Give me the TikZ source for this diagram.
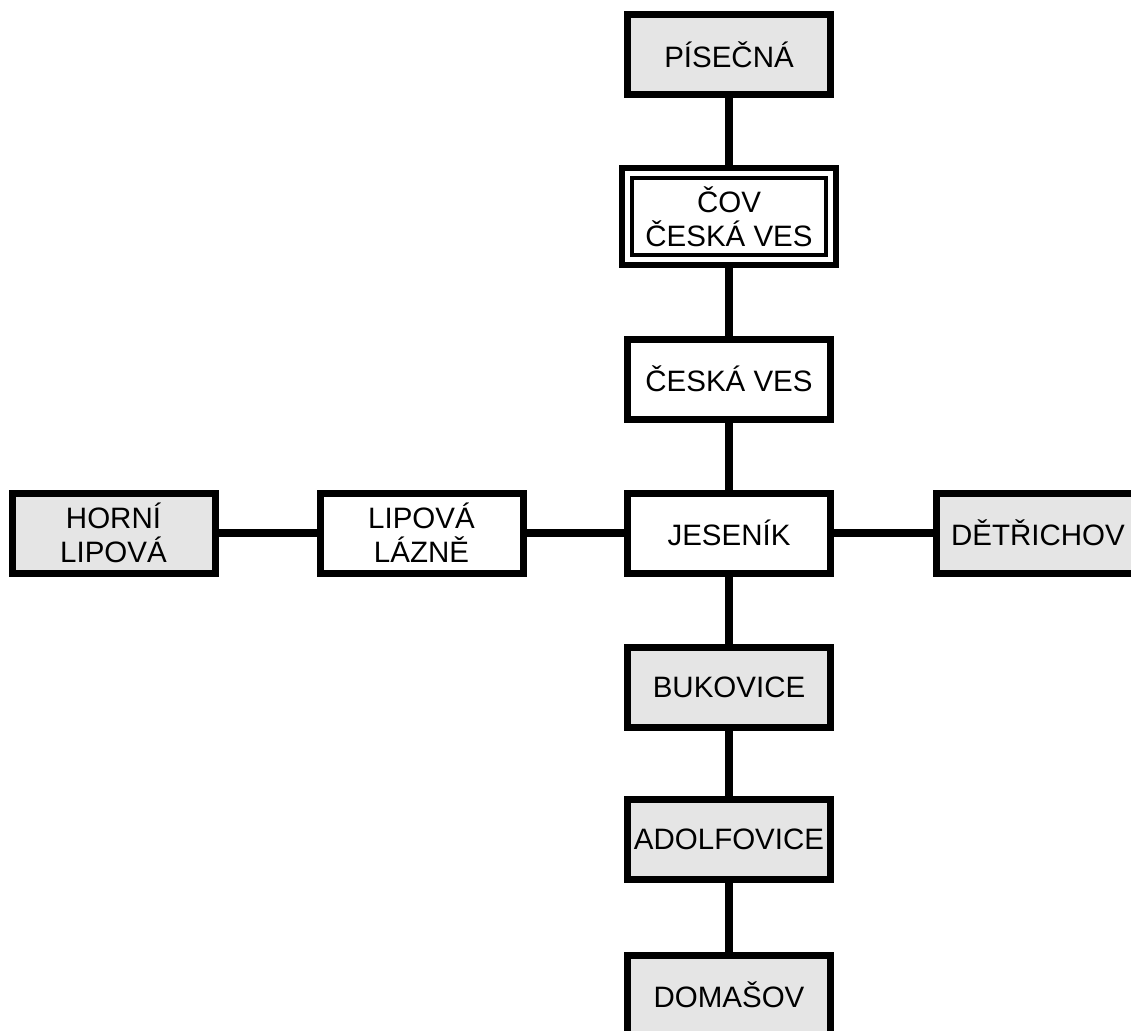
\documentclass[tikz,border=0pt]{standalone}
\usepackage{fontspec}
\setmainfont{Liberation Sans}
\definecolor{boxgray}{RGB}{229,229,229}
\begin{document}
\begin{tikzpicture}[x=1pt,y=-1pt,
  box/.style={draw=black, line width=7pt, outer sep=0pt, minimum width=203pt, minimum height=80pt,
    inner sep=0pt, align=center, font=\fontsize{29.5}{34}\selectfont},
  graybox/.style={box, fill=boxgray},
  whitebox/.style={box, fill=white},
  covbox/.style={box, fill=white, line width=6pt, minimum width=214pt, minimum height=97pt},
  link/.style={line width=8pt, draw=black}]
\useasboundingbox (0,0) rectangle (1131,1030);
\clip (0,0) rectangle (1131,1030);
% nodes
\node[graybox] (pis) at (729,54.5) {PÍSEČNÁ};
\node[covbox] (cov) at (729,216.5) {ČOV\\ČESKÁ VES};
\node[whitebox] (ces) at (729,379) {ČESKÁ VES};
\node[whitebox] (jes) at (729,533) {JESENÍK};
\node[graybox] (hor) at (113.5,533) {HORNÍ\\LIPOVÁ};
\node[whitebox] (laz) at (421.5,533) {LIPOVÁ\\LÁZNĚ};
\node[graybox] (det) at (1038,533) {DĚTŘICHOV};
\node[graybox] (buk) at (729,687) {BUKOVICE};
\node[graybox] (ado) at (729,839.5) {ADOLFOVICE};
\node[graybox] (dom) at (729,995) {DOMAŠOV};
% inner line of double frame
\draw[line width=4.5pt] ([xshift=10pt,yshift=-10pt]cov.north west) rectangle ([xshift=-10pt,yshift=10pt]cov.south east);
% connectors
\draw[link] (pis.south) -- (cov.north);
\draw[link] (cov.south) -- (ces.north);
\draw[link] (ces.south) -- (jes.north);
\draw[link] (jes.south) -- (buk.north);
\draw[link] (buk.south) -- (ado.north);
\draw[link] (ado.south) -- (dom.north);
\draw[link] (hor.east) -- (laz.west);
\draw[link] (laz.east) -- (jes.west);
\draw[link] (jes.east) -- (det.west);
\end{tikzpicture}
\end{document}
